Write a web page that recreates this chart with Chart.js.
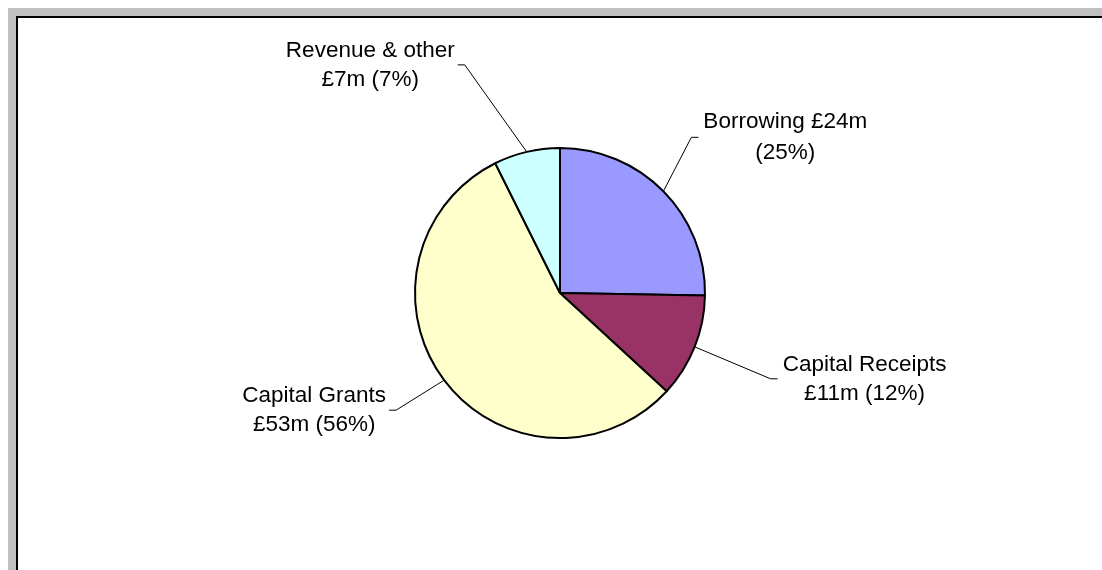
<!DOCTYPE html>
<html lang="en">
<head>
    <meta charset="UTF-8">
    <title>Capital funding</title>
    <script src="https://cdn.jsdelivr.net/npm/chart.js"></script>
    <style>
        html, body { margin: 0; padding: 0; background: #fff; overflow: hidden; }
        .frame { position: absolute; left: 8px; top: 8px; width: 1300px; height: 800px;
                 border-left: 8px solid #c0c0c0; border-top: 8px solid #c0c0c0; }
        .inner { width: 100%; height: 100%; border-left: 2px solid #000; border-top: 2px solid #000; background: #fff; }
        #fundingChart { position: absolute; left: 0; top: 0; }
    </style>
</head>
<body>
    <div class="frame"><div class="inner"></div></div>
    <canvas id="fundingChart" width="1102" height="570"></canvas>

    <script>
        // Données du graphique (en millions de £)
        const categories = ['Borrowing', 'Capital Receipts', 'Capital Grants', 'Revenue & other'];
        const values = [24, 11, 53, 7];
        const colours = ['#9999FF', '#993366', '#FFFFCC', '#CCFFFF'];

        // Texte des étiquettes (deux lignes chacune)
        const labelLines = [
            ['Borrowing £24m', '(25%)'],
            ['Capital Receipts', '£11m (12%)'],
            ['Capital Grants', '£53m (56%)'],
            ['Revenue & other', '£7m (7%)']
        ];

        // Décalage du coude de la ligne de rappel par rapport au bord de la part
        const elbowOffsets = [[28, -54], [76, 32], [-48, 30], [-62, -87]];

        // Plugin pour dessiner les étiquettes et les lignes de rappel
        const leaderLabels = {
            id: 'leaderLabels',
            afterDatasetsDraw(chart) {
                const ctx = chart.ctx;
                const arcs = chart.getDatasetMeta(0).data;
                ctx.save();
                ctx.font = '22.5px "Liberation Sans", Arial, sans-serif';
                ctx.fillStyle = '#000';
                ctx.strokeStyle = '#000';
                ctx.lineWidth = 1;
                ctx.textBaseline = 'middle';
                ctx.textAlign = 'center';
                arcs.forEach((arc, i) => {
                    const p = arc.getProps(['x', 'y', 'startAngle', 'endAngle', 'outerRadius'], true);
                    const mid = (p.startAngle + p.endAngle) / 2;
                    const ex = p.x + Math.cos(mid) * p.outerRadius;
                    const ey = p.y + Math.sin(mid) * p.outerRadius;
                    const bx = ex + elbowOffsets[i][0];
                    const by = ey + elbowOffsets[i][1];
                    const right = elbowOffsets[i][0] > 0;
                    const tx = bx + (right ? 7 : -7);
                    ctx.beginPath();
                    ctx.moveTo(ex, ey);
                    ctx.lineTo(bx, by);
                    ctx.lineTo(tx, by);
                    ctx.stroke();

                    const lines = labelLines[i];
                    const w = Math.max(...lines.map(l => ctx.measureText(l).width));
                    const cx = right ? tx + 5 + w / 2 : tx - 3 - w / 2;
                    const lh = i === 0 ? 31 : 29;
                    lines.forEach((l, k) => {
                        ctx.fillText(l, cx, by + (k - (lines.length - 1) / 2) * lh);
                    });
                });
                ctx.restore();
            }
        };

        const ctx = document.getElementById('fundingChart').getContext('2d');
        const fundingChart = new Chart(ctx, {
            type: 'pie',
            data: {
                labels: categories,
                datasets: [{
                    data: values,
                    backgroundColor: colours,
                    borderColor: '#000',
                    borderWidth: 2
                }]
            },
            options: {
                responsive: false,
                animation: false,
                layout: { padding: { left: 414, right: 396, top: 147, bottom: 131 } },
                plugins: {
                    legend: { display: false },
                    tooltip: { enabled: false }
                }
            },
            plugins: [leaderLabels]
        });
    </script>
</body>
</html>
